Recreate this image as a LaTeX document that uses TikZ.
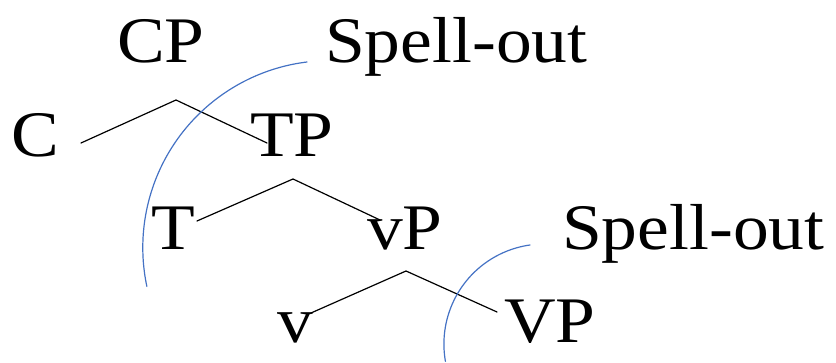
\documentclass[tikz,border=0pt]{standalone}
\usepackage{fontspec}
\setmainfont[FakeStretch=1.1]{Liberation Serif}
\definecolor{spellblue}{RGB}{68,114,196}
\begin{document}
\begin{tikzpicture}[x=1pt, y=1pt, line cap=round, line join=round, font=\fontsize{65}{72}\selectfont]
	\tikzset{cat/.style={anchor=base, inner sep=0pt},
		branch/.style={line width=1.2pt, black},
		phase/.style={line width=1.2pt, spellblue}}
	\useasboundingbox (0,0) rectangle (836,363);
	% categories
	\node[cat] (cp) at (161,300) {CP};
	\node[cat, anchor=base west] (spell1) at (325,300) {Spell-out};
	\node[cat] (c) at (35,206) {C};
	\node[cat] (tp) at (292,206) {TP};
	\node[cat] (t) at (173,113) {T};
	\node[cat] (vp) at (405,113) {vP};
	\node[cat, anchor=base west] (spell2) at (562,113) {Spell-out};
	\node[cat] (v) at (295,20) {v};
	\node[cat] (VP) at (550,20) {VP};
	% branch points
	\coordinate (cp-top) at (176,263);
	\coordinate (c-end) at (81,220);
	\coordinate (tp-end) at (267,220);
	\coordinate (tp-top) at (293,184);
	\coordinate (t-end) at (197,142);
	\coordinate (vp-end) at (380,143);
	\coordinate (vp-top) at (406,92);
	\coordinate (v-end) at (311,50);
	\coordinate (VP-end) at (497,51);
	\draw[branch] (c-end) -- (cp-top) -- (tp-end);
	\draw[branch] (t-end) -- (tp-top) -- (vp-end);
	\draw[branch] (v-end) -- (vp-top) -- (VP-end);
	% phase boundaries
	\draw[phase] (307,301) arc[start angle=97, end angle=192, radius=187];
	\draw[phase] (530,118) arc[start angle=98, end angle=190, radius=100];
\end{tikzpicture}
\end{document}
